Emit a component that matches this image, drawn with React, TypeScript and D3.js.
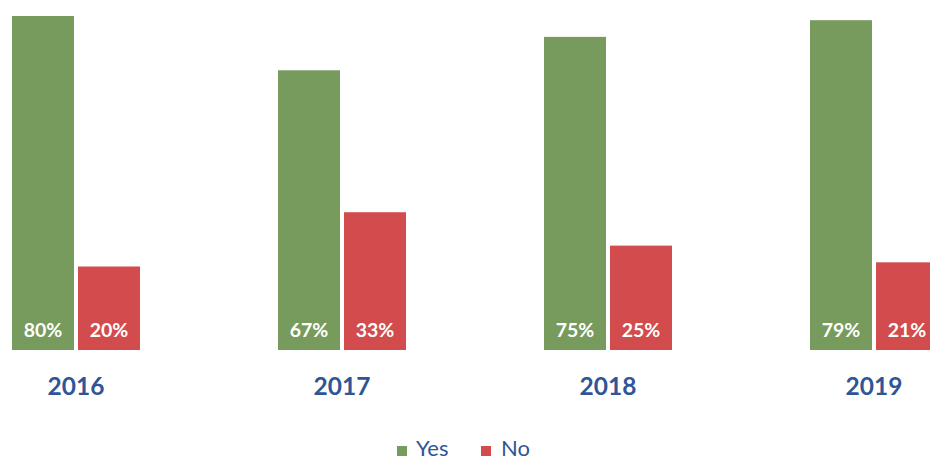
import React from "react";
import * as d3 from "d3";

const years = ["2016", "2017", "2018", "2019"];
const seriesNames = ["Yes", "No"];
const yesValues = [80, 67, 75, 79];
const noValues = [20, 33, 25, 21];
const colors = ["#779B5D", "#D24B4D"];

const W = 930;
const H = 459;

export default function App() {
  const x0 = d3.scaleBand<string>().domain(years).range([-57, 1007]).paddingInner(0.5188).paddingOuter(0.2594);
  const x1 = d3.scaleBand<string>().domain(seriesNames).range([0, x0.bandwidth()]).paddingInner(4 / 66);
  const y = d3.scaleLinear().domain([0, 80]).range([350, 16]);
  const values = [yesValues, noValues];
  const font = "Lato, 'Open Sans', sans-serif";

  return (
    <svg width={W} height={H} style={{ position: "absolute", left: 0, top: 0, background: "#fff" }}>
      {years.map((yr, i) => (
        <g key={yr} transform={`translate(${x0(yr)},0)`}>
          {seriesNames.map((s, j) => {
            const v = values[j][i];
            const bx = x1(s)!;
            return (
              <g key={s}>
                <rect x={bx} y={y(v)} width={x1.bandwidth()} height={y(0) - y(v)} fill={colors[j]} />
                <text x={bx + x1.bandwidth() / 2} y={337} textAnchor="middle" fill="#fff" fontFamily={font} fontWeight="bold" fontSize={19.5}>
                  {v}%
                </text>
              </g>
            );
          })}
          <text x={x0.bandwidth() / 2} y={395} textAnchor="middle" fill="#2F5597" fontFamily={font} fontWeight="bold" fontSize={24.5}>
            {yr}
          </text>
        </g>
      ))}
      <g>
        <rect x={397} y={446} width={10} height={10} fill={colors[0]} />
        <text x={416} y={455.5} fill="#2F5597" fontFamily={font} fontSize={22}>{seriesNames[0]}</text>
        <rect x={481} y={446} width={10} height={10} fill={colors[1]} />
        <text x={501} y={455.5} fill="#2F5597" fontFamily={font} fontSize={22}>{seriesNames[1]}</text>
      </g>
    </svg>
  );
}
